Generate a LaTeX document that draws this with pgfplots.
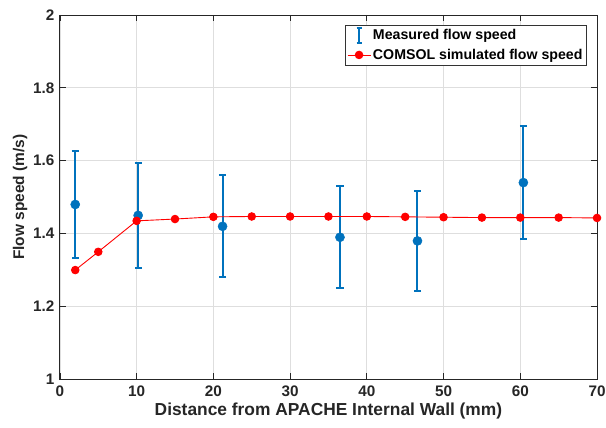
\documentclass[border=0pt]{standalone}
\usepackage{pgfplots}
\pgfplotsset{compat=1.18}
\usetikzlibrary{calc}
\usepackage{fontspec}
\setmainfont{Liberation Sans}
\definecolor{mblue}{RGB}{0,114,189}
\definecolor{mred}{RGB}{255,0,0}
\definecolor{mtext}{RGB}{38,38,38}
\begin{document}
\begin{tikzpicture}
\begin{axis}[
    scale only axis,
    width=538pt,
    height=365pt,
    xmin=0, xmax=70,
    ymin=1, ymax=2,
    xtick={0,10,...,70},
    ytick={1,1.2,1.4,1.6,1.8,2},
    grid=major,
    grid style={black!13, line width=0.8pt},
    axis line style={mtext, line width=0.9pt},
    tick style={mtext, line width=0.8pt},
    tick align=inside,
    major tick length=6pt,
    /pgf/number format/assume math mode=true,
    ticklabel style={font=\fontsize{15.3}{17}\selectfont\bfseries, text=mtext},
    xticklabel style={yshift=-3pt},
    yticklabel style={xshift=-2pt},
    xlabel={Distance from APACHE Internal Wall (mm)},
    ylabel={Flow speed (m/s)},
    xlabel style={font=\fontsize{17.4}{19}\selectfont\bfseries, text=mtext, yshift=1pt},
    ylabel style={font=\fontsize{15.5}{17}\selectfont\bfseries, text=mtext, yshift=-1pt},
    legend style={
        at={(0.981,0.973)}, anchor=north east,
        font=\fontsize{14.2}{16}\selectfont\bfseries,
        draw=black!80, line width=0.6pt,
        row sep=3pt, inner xsep=2pt, inner ysep=2pt,
        cells={anchor=west},
    },
]
\addplot[
    only marks, mark=*, mark size=4.6pt, color=mblue,
    legend image code/.code={
        \draw[mblue, line width=2pt] (11.5pt,-7.5pt) -- (11.5pt,7.5pt);
        \draw[mblue, line width=2pt] (9pt,-7.5pt) -- (14pt,-7.5pt);
        \draw[mblue, line width=2pt] (9pt,7.5pt) -- (14pt,7.5pt);
    },
    error bars/.cd, y dir=both, y explicit,
    error bar style={line width=2pt, color=mblue},
    error mark options={rotate=90, mark size=3.6pt, line width=2pt, color=mblue},
] coordinates {
    (2.0,1.480) +- (0,0.148)
    (10.2,1.450) +- (0,0.145)
    (21.2,1.420) +- (0,0.140)
    (36.5,1.390) +- (0,0.140)
    (46.6,1.380) +- (0,0.138)
    (60.4,1.540) +- (0,0.155)
};
\addlegendentry{Measured flow speed}
\addplot[color=mred, line width=0.9pt, mark=*, mark size=3.8pt,
    mark options={solid, fill=mred, draw=mred},
    legend image code/.code={
        \draw[mred, line width=0.9pt] (0pt,0pt) -- (23pt,0pt);
        \fill[mred] (11.5pt,0pt) circle (3.8pt);
    }] coordinates {
    (2,1.300) (5,1.350) (10,1.435) (15,1.440) (20,1.446) (25,1.447)
    (30,1.447) (35,1.447) (40,1.447) (45,1.446) (50,1.445) (55,1.444)
    (60,1.444) (65,1.444) (70,1.443)
};
\addlegendentry{COMSOL simulated flow speed}
\end{axis}
\pgfresetboundingbox
\path ($(current axis.south west)+(-60pt,-48pt)$) rectangle ($(current axis.north east)+(9pt,15pt)$);
\end{tikzpicture}
\end{document}
